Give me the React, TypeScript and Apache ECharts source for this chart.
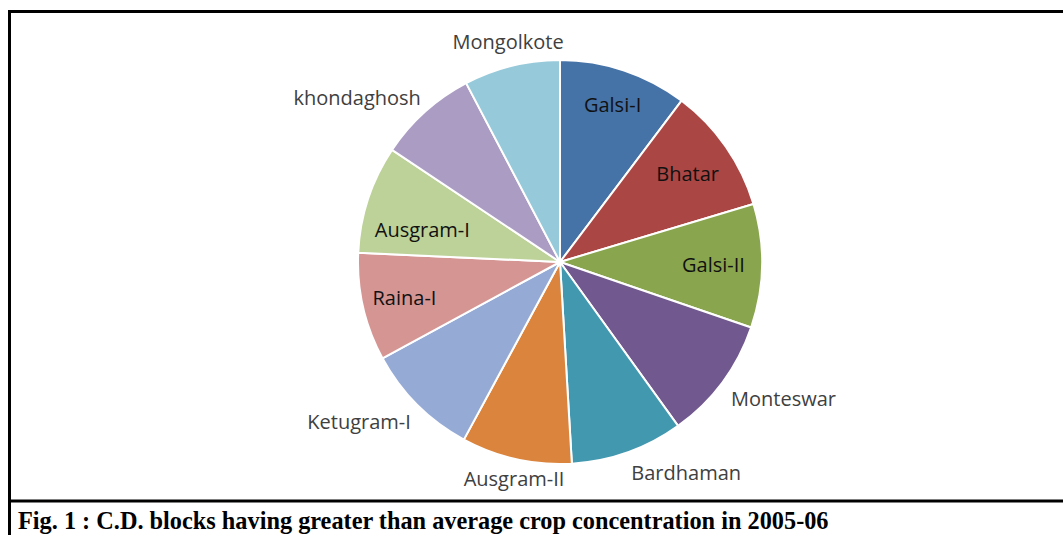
import React, { useEffect, useRef } from "react";
import * as echarts from "echarts";

const categories = [
  "Galsi-I",
  "Bhatar",
  "Galsi-II",
  "Monteswar",
  "Bardhaman",
  "Ausgram-II",
  "Ketugram-I",
  "Raina-I",
  "Ausgram-I",
  "khondaghosh",
  "Mongolkote",
];
const values = [10.28, 10.08, 9.89, 9.81, 9.0, 8.83, 9.19, 8.64, 8.64, 7.94, 7.69];
const colors = [
  "#4572a7",
  "#aa4643",
  "#89a54e",
  "#71588f",
  "#4198af",
  "#db843d",
  "#95abd6",
  "#d59593",
  "#bdd298",
  "#ab9cc3",
  "#96c9da",
];
const captionText = "Fig. 1 : C.D. blocks having greater than average crop concentration in 2005-06";

// label placement style (inside: fraction of radius; outside: gap + alignment)
type Spec = { mode: "in" | "out"; f?: number; da?: number; gap?: number; align?: string; va?: string };
const labelSpecs: Spec[] = [
  { mode: "in", f: 0.82 },
  { mode: "in", f: 0.77 },
  { mode: "in", f: 0.76 },
  { mode: "out", gap: 11, align: "left", va: "top" },
  { mode: "out", gap: 11, align: "left", va: "top" },
  { mode: "out", gap: 10, align: "center", va: "top" },
  { mode: "out", gap: 9, align: "right", va: "top" },
  { mode: "in", f: 0.79 },
  { mode: "in", f: 0.7, da: -5 },
  { mode: "out", gap: 6, align: "right", va: "bottom" },
  { mode: "out", gap: 15, align: "center", va: "bottom" },
];

const CX = 560;
const CY = 262;
const R = 202;

export default function App() {
  const ref = useRef<HTMLDivElement>(null);
  useEffect(() => {
    document.body.style.margin = "0";
    if (!ref.current) return;
    const chart = echarts.init(ref.current, undefined, { renderer: "svg" });
    const total = values.reduce((a, b) => a + b, 0);
    const mids: number[] = [];
    let cum = 0;
    values.forEach((v) => {
      mids.push(((cum + v / 2) / total) * Math.PI * 2);
      cum += v;
    });
    chart.setOption({
      animation: false,
      backgroundColor: "#ffffff",
      graphic: [
        { type: "line", shape: { x1: 9.5, y1: 10, x2: 9.5, y2: 535 }, style: { stroke: "#000", lineWidth: 3 } },
        { type: "line", shape: { x1: 8, y1: 11.5, x2: 1063, y2: 11.5 }, style: { stroke: "#000", lineWidth: 3 } },
        { type: "line", shape: { x1: 8, y1: 501, x2: 1063, y2: 501 }, style: { stroke: "#000", lineWidth: 3 } },
        {
          type: "text",
          x: 18,
          y: 520,
          style: {
            text: captionText,
            font: 'bold 24.3px "Liberation Serif"',
            fill: "#000",
            verticalAlign: "middle",
            align: "left",
          },
        },
      ],
      series: [
        {
          type: "pie",
          center: [CX, CY],
          radius: R,
          startAngle: 90,
          clockwise: true,
          avoidLabelOverlap: false,
          silent: true,
          data: categories.map((name, i) => ({
            name,
            value: values[i],
            itemStyle: { color: colors[i] },
            label: { color: labelSpecs[i].mode === "in" ? "#111" : "#404040" },
          })),
          itemStyle: { borderColor: "#ffffff", borderWidth: 2 },
          label: {
            show: true,
            formatter: "{b}",
            fontFamily: "Open Sans",
            fontSize: 20,
          },
          labelLine: { show: false },
          labelLayout: (params: any) => {
            const i = params.dataIndex;
            const s = labelSpecs[i];
            if (s.mode === "in") {
              const a = mids[i] + ((s.da || 0) * Math.PI) / 180;
              const d = R * (s.f as number);
              return { x: CX + d * Math.sin(a), y: CY - d * Math.cos(a), align: "center", verticalAlign: "middle" };
            }
            const a = mids[i];
            const d = R + (s.gap as number);
            return { x: CX + d * Math.sin(a), y: CY - d * Math.cos(a), align: s.align, verticalAlign: s.va };
          },
        },
      ],
    });
    return () => chart.dispose();
  }, []);
  return <div ref={ref} style={{ width: 1063, height: 535 }} />;
}
